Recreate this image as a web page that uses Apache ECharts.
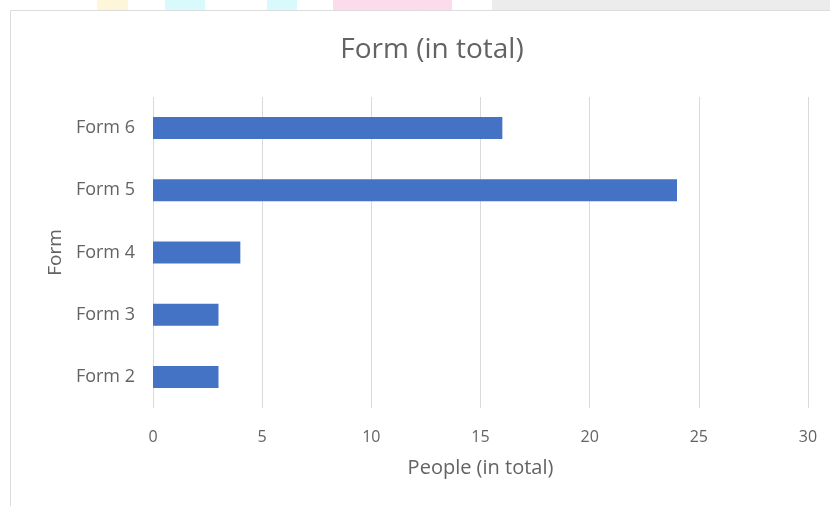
<!DOCTYPE html>
<html>
<head>
<meta charset="utf-8">
<script src="https://cdn.jsdelivr.net/npm/echarts@6/dist/echarts.min.js"></script>
<style>
  html, body { margin: 0; padding: 0; background: #fff; }
  #chart { width: 830px; height: 506px; }
</style>
</head>
<body>
<div id="chart"></div>
<script>
"use strict";
// data
var forms = ["Form 2", "Form 3", "Form 4", "Form 5", "Form 6"];
var people = [3, 3, 4, 24, 16];
var xTicks = [0, 5, 10, 15, 20, 25, 30];

var myChart = echarts.init(document.getElementById("chart"));
var txt = "#636363";
var font = "'Open Sans', 'Noto Sans', sans-serif";

var option = {
  backgroundColor: "#fff",
  animation: false,
  title: {
    text: "Form (in total)",
    left: 427,
    textAlign: "center",
    top: 31,
    textStyle: { color: txt, fontSize: 28, fontWeight: "normal", fontFamily: font }
  },
  graphic: [
    // faint strip of colours above the frame
    { type: "rect", shape: { x: 97, y: 0, width: 31, height: 10 }, style: { fill: "#fdf6d8" } },
    { type: "rect", shape: { x: 165, y: 0, width: 40, height: 10 }, style: { fill: "#d9fafc" } },
    { type: "rect", shape: { x: 267, y: 0, width: 30, height: 10 }, style: { fill: "#d9fafc" } },
    { type: "rect", shape: { x: 333, y: 0, width: 119, height: 10 }, style: { fill: "#fcdcec" } },
    { type: "rect", shape: { x: 492, y: 0, width: 338, height: 10 }, style: { fill: "#ececec" } },
    // chart frame
    { type: "rect", shape: { x: 10.5, y: 10.5, width: 830, height: 520 },
      style: { fill: null, stroke: "#dcdcdc", lineWidth: 1 } }
  ],
  grid: { left: 153, right: 22, top: 97, bottom: 98 },
  xAxis: {
    type: "value",
    min: xTicks[0],
    max: xTicks[xTicks.length - 1],
    interval: 5,
    name: "People (in total)",
    nameLocation: "middle",
    nameGap: 50,
    nameTextStyle: { color: txt, fontSize: 20, fontFamily: font },
    axisLine: { show: false },
    axisTick: { show: false },
    axisLabel: { color: txt, fontSize: 16, margin: 21, fontFamily: font },
    splitLine: { lineStyle: { color: "#d9d9d9", width: 1 } }
  },
  yAxis: {
    type: "category",
    data: forms,
    name: "Form",
    nameLocation: "middle",
    nameGap: 88,
    nameRotate: 90,
    nameTextStyle: { color: txt, fontSize: 19, fontFamily: font },
    axisLine: { show: false },
    axisTick: { show: false },
    axisLabel: { color: txt, fontSize: 18, margin: 18, fontFamily: font }
  },
  series: [
    {
      type: "bar",
      data: people,
      barWidth: 22,
      itemStyle: { color: "#4472c4" }
    }
  ]
};
myChart.setOption(option);
</script>
</body>
</html>
